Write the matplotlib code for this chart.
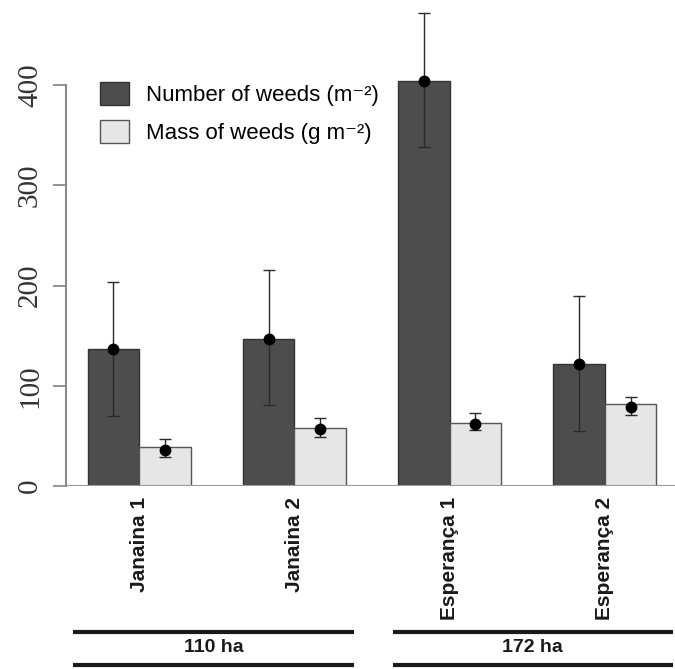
import numpy as np
import matplotlib
matplotlib.use('Agg')
import matplotlib.pyplot as plt
from matplotlib.patches import Patch
import matplotlib.transforms as mtransforms

# data
sites = ['Janaina 1', 'Janaina 2', 'Esperança 1', 'Esperança 2']
number_mean = [137, 147, 404, 122]
number_upper = [204, 216, 472, 190]
number_lower = [70, 81, 338, 55]
mass_mean = [39, 58, 63, 82]
mass_point = [36, 57, 62, 79]
mass_upper = [47, 68, 73, 89]
mass_lower = [29, 49, 56, 71]
areas = ['110 ha', '172 ha']
area_span = [(0.72, 6.15), (6.9, 12.32)]

dark = '#4d4d4d'
light = '#e6e6e6'

plt.rcParams['font.family'] = ['Liberation Sans', 'DejaVu Sans']

fig = plt.figure(figsize=(6.75, 6.69), dpi=100)
ax = fig.add_axes([53 / 675, 183 / 669, 1 - 53 / 675, 486 / 669])

n = len(sites)
x_dark = np.arange(n) * 3 + 1.5
x_light = x_dark + 1

ax.bar(x_dark, number_mean, width=1, color=dark, edgecolor='#333333', linewidth=1.0, zorder=2)
ax.bar(x_light, mass_mean, width=1, color=light, edgecolor='#555555', linewidth=1.0, zorder=2)

num = np.array(number_mean)
ax.errorbar(x_dark, num, yerr=[num - np.array(number_lower), np.array(number_upper) - num],
            fmt='o', color='black', ecolor='#2a2a2a', elinewidth=1.0, capsize=4.5,
            capthick=1.0, markersize=7.5, zorder=3)
mp = np.array(mass_point)
ax.errorbar(x_light, mp, yerr=[mp - np.array(mass_lower), np.array(mass_upper) - mp],
            fmt='o', color='black', ecolor='#2a2a2a', elinewidth=1.0, capsize=4.5,
            capthick=1.0, markersize=7.5, zorder=3)

ax.set_xlim(0.33, 12.36)
ax.set_ylim(0, 485)

for s in ['top', 'right', 'bottom']:
    ax.spines[s].set_visible(False)
ax.spines['left'].set_position(('data', 0.58))
ax.spines['left'].set_bounds(0, 400)
ax.spines['left'].set_color('#8a8a8a')
ax.spines['left'].set_linewidth(1.5)
ax.axhline(0, color='#9a9a9a', linewidth=1.5, zorder=4)

ax.set_yticks([0, 100, 200, 300, 400])
ax.tick_params(axis='y', length=9.5, width=1.3, color='#8a8a8a', pad=7)
for lbl in ax.get_yticklabels():
    lbl.set_fontfamily(['Liberation Serif', 'DejaVu Serif'])
    lbl.set_fontsize(21)
    lbl.set_rotation(90)
    lbl.set_verticalalignment('center')
    lbl.set_color('#333333')

ax.set_xticks(x_dark + 0.5)
ax.set_xticklabels(sites, rotation=90, fontsize=15, fontweight='bold', color='#1a1a1a')
ax.tick_params(axis='x', length=0, pad=8)

handles = [Patch(facecolor=dark, edgecolor='#333333', linewidth=1.0),
           Patch(facecolor=light, edgecolor='#555555', linewidth=1.0)]
ax.legend(handles, ['Number of weeds (m⁻²)', 'Mass of weeds (g m⁻²)'],
          loc='upper left', bbox_to_anchor=(100 / 675, 1 - 82 / 669), bbox_transform=fig.transFigure,
          frameon=False, fontsize=16, handlelength=1.3, handleheight=1.2,
          handletextpad=0.75, labelspacing=0.65, borderaxespad=0, borderpad=0)

trans = mtransforms.blended_transform_factory(ax.transData, fig.transFigure)
for label, (x0, x1) in zip(areas, area_span):
    for yy in [(669 - 632) / 669, (669 - 665) / 669]:
        ax.plot([x0, x1], [yy, yy], color='#1a1a1a', linewidth=3, transform=trans,
                clip_on=False, solid_capstyle='butt')
    ax.text((x0 + x1) / 2, (669 - 648) / 669, label, transform=trans, ha='center', va='center',
            fontsize=14, fontweight='bold', color='#1a1a1a')

fig.savefig('out.png', dpi=100)
